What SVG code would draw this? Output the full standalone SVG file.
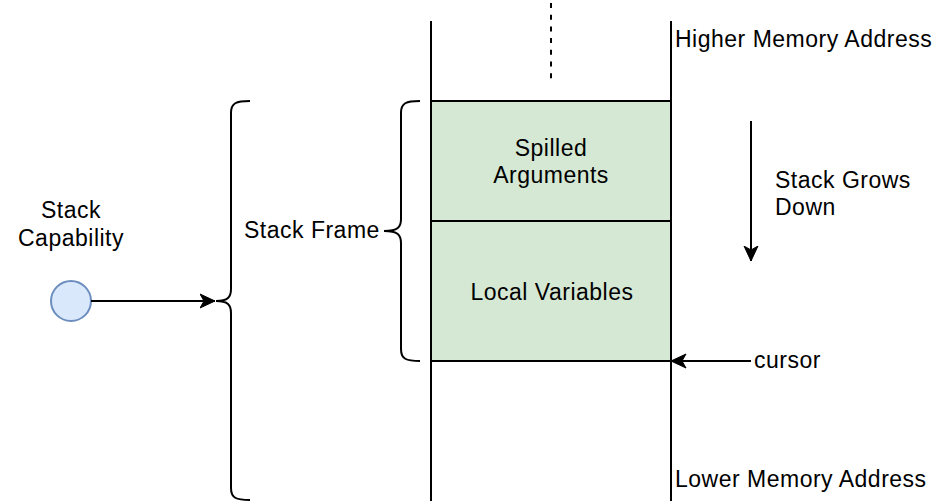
<svg xmlns="http://www.w3.org/2000/svg" width="952" height="504" viewBox="0 0 952 504">
  <style>
    text { font-family: "Liberation Sans", Arial, Helvetica, sans-serif; font-size: 23px; letter-spacing: 0.5px; fill: #000; }
    .mid { text-anchor: middle; }
    .line { stroke: #000; stroke-width: 2; fill: none; }
    .cell { fill: #d5e8d4; stroke: #000; stroke-width: 2; }
  </style>
  <defs>
    <marker id="arrow" viewBox="0 0 16 16" refX="15.5" refY="8" markerWidth="16" markerHeight="16" markerUnits="userSpaceOnUse" orient="auto">
      <path d="M0.5,1 L15.5,8 L0.5,15 L4.5,8 Z" fill="#000" stroke="#000" stroke-width="1"/>
    </marker>
  </defs>

  <rect width="952" height="504" fill="#fff"/>

  <!-- stack walls and top marker -->
  <g id="stack-walls">
    <line class="line" x1="431" y1="21" x2="431" y2="501"/>
    <line class="line" x1="671" y1="21" x2="671" y2="501"/>
    <line class="line" x1="551" y1="3" x2="551" y2="81" stroke-dasharray="5 6.7"/>
  </g>

  <g id="spilled-arguments">
    <rect class="cell" x="431" y="101" width="240" height="120"/>
    <text class="mid" x="551" y="155.5">Spilled</text>
    <text class="mid" x="551" y="182.5">Arguments</text>
  </g>

  <g id="local-variables">
    <rect class="cell" x="431" y="221" width="240" height="140"/>
    <text class="mid" x="552" y="299.5">Local Variables</text>
  </g>

  <g id="stack-capability">
    <circle cx="71" cy="301" r="20" fill="#dae8fc" stroke="#6c8ebf" stroke-width="2"/>
    <text class="mid" x="71" y="218">Stack</text>
    <text class="mid" x="71" y="246">Capability</text>
  </g>

  <g id="outer-brace">
    <path class="line" d="M250,101 C236,101 231,103 231,113 L231,289 C231,297 228,301 216,301 C228,301 231,305 231,313 L231,488 C231,498 236,500 250,500"/>
  </g>

  <g id="stack-frame-brace">
    <path class="line" d="M420,101 C406,101 401,103 401,113 L401,219 C401,227 398,231 384,231 C398,231 401,235 401,243 L401,349 C401,359 406,361 420,361"/>
    <text x="244" y="238">Stack Frame</text>
  </g>

  <g id="labels">
    <text x="675" y="47">Higher Memory Address</text>
    <text x="675" y="487">Lower Memory Address</text>
    <text x="775" y="188">Stack Grows</text>
    <text x="775" y="215">Down</text>
    <text x="754" y="368">cursor</text>
  </g>

  <g id="connectors">
    <line class="line" x1="91" y1="301" x2="215" y2="301" marker-end="url(#arrow)"/>
    <line class="line" x1="751" y1="121" x2="751" y2="261" marker-end="url(#arrow)"/>
    <line class="line" x1="751" y1="361" x2="671" y2="361" marker-end="url(#arrow)"/>
  </g>
</svg>
